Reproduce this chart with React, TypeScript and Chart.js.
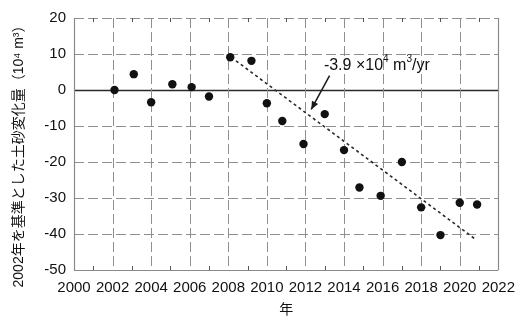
import React, { useEffect, useRef } from 'react';
import { Chart, registerables } from 'chart.js';

Chart.register(...registerables);

// Observed data (year, change in 10^4 m^3 relative to 2002)
const years = [2002.1, 2003.1, 2004, 2005.1, 2006.1, 2007, 2008.1, 2009.2, 2010, 2010.8, 2011.9, 2013, 2014, 2014.8, 2015.9, 2017, 2018, 2019, 2020, 2020.9];
const changes = [0, 4.4, -3.4, 1.6, 0.8, -1.8, 9.1, 8.1, -3.7, -8.6, -15, -6.7, -16.7, -27.1, -29.4, -20, -32.6, -40.3, -31.3, -31.8];

// Trend line end points
const trendYears = [2008.4, 2020.8];
const trendValues = [8.1, -41.4];

// Axis ticks
const xTicks = [2000, 2002, 2004, 2006, 2008, 2010, 2012, 2014, 2016, 2018, 2020, 2022];
const minorXTicks = [2001, 2003, 2005, 2007, 2009, 2011, 2013, 2015, 2017, 2019, 2021];
const yTicks = [20, 10, 0, -10, -20, -30, -40, -50];

// Texts
const yTitle = '2002年を基準とした土砂変化量（10⁴ m³）';
const xTitle = '年';
const slopeParts = [
  { t: '-3.9 ×10', sup: false },
  { t: '4', sup: true },
  { t: ' m', sup: false },
  { t: '3', sup: true },
  { t: '/yr', sup: false },
];
// annotation anchors (data coordinates)
const labelAt = { x: 2015.7, y: 6.9 };
const arrowFrom = { x: 2013.25, y: 4.0 };
const arrowTo = { x: 2012.3, y: -5.4 };

const FONT = "'Liberation Sans', 'Noto Sans CJK JP', sans-serif";

const decor = {
  id: 'decor',
  beforeDatasetsDraw(chart: any) {
    const { ctx, chartArea: a, scales } = chart;
    const xs = scales.x;
    const ys = scales.y;
    ctx.save();
    // horizontal grid
    yTicks.forEach((v) => {
      const py = Math.round(ys.getPixelForValue(v)) + 0.5;
      ctx.beginPath();
      if (v === 0) {
        ctx.setLineDash([]);
        ctx.strokeStyle = '#2a2a2a';
        ctx.lineWidth = 1.5;
      } else if (v === -50) {
        ctx.setLineDash([]);
        ctx.strokeStyle = '#8a8a8a';
        ctx.lineWidth = 1.2;
      } else {
        ctx.setLineDash([10, 4]);
        ctx.strokeStyle = '#8f8f8f';
        ctx.lineWidth = 1;
      }
      ctx.moveTo(a.left, py);
      ctx.lineTo(a.right, py);
      ctx.stroke();
    });
    // vertical grid
    xTicks.forEach((v) => {
      const px = Math.round(xs.getPixelForValue(v)) + 0.5;
      ctx.beginPath();
      if (v === xTicks[0] || v === xTicks[xTicks.length - 1]) {
        ctx.setLineDash([]);
        ctx.strokeStyle = '#8a8a8a';
        ctx.lineWidth = 1.2;
      } else {
        ctx.setLineDash([10, 4]);
        ctx.strokeStyle = '#8f8f8f';
        ctx.lineWidth = 1;
      }
      ctx.moveTo(px, a.top);
      ctx.lineTo(px, a.bottom);
      ctx.stroke();
    });
    // minor ticks
    ctx.setLineDash([]);
    ctx.strokeStyle = '#555';
    ctx.lineWidth = 1;
    minorXTicks.forEach((v) => {
      const px = Math.round(xs.getPixelForValue(v)) + 0.5;
      ctx.beginPath();
      ctx.moveTo(px, a.bottom);
      ctx.lineTo(px, a.bottom - 4);
      ctx.moveTo(px, a.top);
      ctx.lineTo(px, a.top + 4);
      ctx.stroke();
    });
    ctx.restore();
  },
  afterDatasetsDraw(chart: any) {
    const { ctx, scales } = chart;
    const xs = scales.x;
    const ys = scales.y;
    ctx.save();
    // arrow
    const x1 = xs.getPixelForValue(arrowFrom.x);
    const y1 = ys.getPixelForValue(arrowFrom.y);
    const x2 = xs.getPixelForValue(arrowTo.x);
    const y2 = ys.getPixelForValue(arrowTo.y);
    ctx.strokeStyle = '#1a1a1a';
    ctx.fillStyle = '#1a1a1a';
    ctx.lineWidth = 1.5;
    ctx.beginPath();
    ctx.moveTo(x1, y1);
    ctx.lineTo(x2, y2);
    ctx.stroke();
    const ang = Math.atan2(y2 - y1, x2 - x1);
    const hl = 8;
    const hw = 3.5;
    ctx.beginPath();
    ctx.moveTo(x2, y2);
    ctx.lineTo(x2 - hl * Math.cos(ang) + hw * Math.sin(ang), y2 - hl * Math.sin(ang) - hw * Math.cos(ang));
    ctx.lineTo(x2 - hl * Math.cos(ang) - hw * Math.sin(ang), y2 - hl * Math.sin(ang) + hw * Math.cos(ang));
    ctx.closePath();
    ctx.fill();

    // slope label
    const mainFont = `16px ${FONT}`;
    const supFont = `10px ${FONT}`;
    let total = 0;
    slopeParts.forEach((p) => {
      ctx.font = p.sup ? supFont : mainFont;
      total += ctx.measureText(p.t).width;
    });
    let cx = xs.getPixelForValue(labelAt.x) - total / 2;
    const cy = ys.getPixelForValue(labelAt.y);
    ctx.textBaseline = 'middle';
    ctx.textAlign = 'left';
    ctx.fillStyle = '#111';
    slopeParts.forEach((p) => {
      ctx.font = p.sup ? supFont : mainFont;
      ctx.fillText(p.t, cx, p.sup ? cy - 6 : cy);
      cx += ctx.measureText(p.t).width;
    });

    // y axis title
    ctx.translate(19, 153);
    ctx.rotate(-Math.PI / 2);
    ctx.font = `14px ${FONT}`;
    ctx.textAlign = 'center';
    ctx.textBaseline = 'middle';
    ctx.fillStyle = '#111';
    ctx.fillText(yTitle, 0, 0);
    ctx.restore();
  },
};

export default function App() {
  const ref = useRef<HTMLCanvasElement>(null);
  useEffect(() => {
    if (!ref.current) return;
    const points = years.map((x, i) => ({ x, y: changes[i] }));
    const trend = trendYears.map((x, i) => ({ x, y: trendValues[i] }));
    const chart = new Chart(ref.current, {
      type: 'scatter',
      data: {
        datasets: [
          {
            label: 'trend',
            data: trend,
            showLine: true,
            borderColor: '#2a2a2a',
            borderWidth: 1.6,
            borderDash: [3, 3],
            pointRadius: 0,
            fill: false,
          },
          {
            label: 'observed',
            data: points,
            pointRadius: 4.2,
            pointBackgroundColor: '#111',
            pointBorderColor: '#111',
            pointBorderWidth: 0,
          },
        ],
      },
      options: {
        responsive: false,
        animation: false,
        events: [],
        layout: { padding: { left: 0, right: 17, top: 18, bottom: 0 } },
        plugins: {
          legend: { display: false },
          tooltip: { enabled: false },
        },
        scales: {
          x: {
            type: 'linear',
            min: 2000,
            max: 2022,
            afterBuildTicks: (s: any) => {
              s.ticks = xTicks.map((v) => ({ value: v }));
            },
            afterFit: (s: any) => {
              s.height = 50;
            },
            ticks: {
              callback: (v: any) => String(v),
              font: { family: FONT, size: 15 },
              color: '#111',
              padding: 9,
              maxRotation: 0,
              autoSkip: false,
            },
            grid: { display: false, drawTicks: false },
            border: { display: false },
            title: {
              display: true,
              text: xTitle,
              font: { family: FONT, size: 14 },
              color: '#111',
              padding: { top: 0, bottom: 1 },
            },
          },
          y: {
            type: 'linear',
            min: -50,
            max: 20,
            afterBuildTicks: (s: any) => {
              s.ticks = yTicks.map((v) => ({ value: v }));
            },
            afterFit: (s: any) => {
              s.width = 74;
            },
            ticks: {
              callback: (v: any) => String(v),
              font: { family: FONT, size: 15 },
              color: '#111',
              padding: 8,
            },
            grid: { display: false, drawTicks: false },
            border: { display: false },
          },
        },
      },
      plugins: [decor],
    });
    return () => chart.destroy();
  }, []);
  return (
    <div style={{ position: 'absolute', left: 0, top: 0, width: 524, height: 320, background: '#fff' }}>
      <canvas ref={ref} width={524} height={320} style={{ display: 'block' }} />
    </div>
  );
}
